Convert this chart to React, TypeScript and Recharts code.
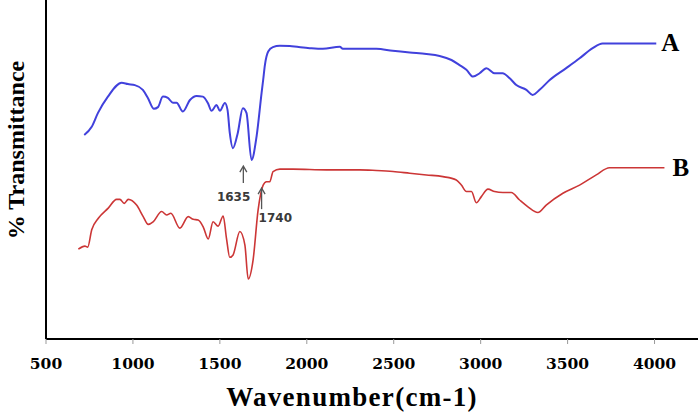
import { LineChart, Line, XAxis, YAxis, ReferenceDot } from 'recharts'

// FTIR spectra, wavenumber (cm-1) vs % transmittance
const waveA = [
  720, 763, 799, 856, 935, 971, 1011, 1057, 1086, 1121, 1144, 1172, 1201, 1230,
  1251, 1287, 1328, 1366, 1402, 1431, 1452, 1481, 1500, 1529, 1544, 1557, 1575,
  1603, 1632, 1653, 1682, 1711, 1740, 1749, 1759, 1778, 1805, 1845, 1902, 2017,
  2092, 2190, 2207, 2305, 2400, 2494, 2592, 2688, 2764, 2832, 2879, 2918, 2956,
  2994, 3033, 3080, 3126, 3167, 3205, 3263, 3299, 3339, 3397, 3492, 3569, 3644,
  3701, 4010,
]
const transA = [
  60.2, 62.6, 66.7, 71.5, 75.6, 75.2, 74.9, 73.5, 71.1, 67.9, 68.4, 71.5, 71.1, 69.7,
  69.7, 67.1, 70.5, 71.7, 71.5, 69.6, 67.3, 69.0, 67.3, 69.6, 67.6, 60.8, 56.3,
  60.8, 68.1, 66.7, 52.8, 59.7, 72.6, 76.4, 80.8, 84.8, 86.1, 86.5, 86.4, 85.8,
  85.6, 86.2, 85.6, 85.6, 85.6, 85.0, 84.5, 84.1, 83.5, 82.3, 80.8, 79.4, 77.4,
  78.4, 79.9, 78.4, 78.4, 76.9, 74.9, 73.5, 72.0, 73.5, 76.4, 79.9, 82.8, 85.8,
  87.2, 87.2,
]

const waveB = [
  686, 724, 740, 763, 801, 858, 906, 925, 950, 973, 1021, 1059, 1088, 1117, 1165,
  1194, 1218, 1270, 1318, 1347, 1375, 1404, 1433, 1461, 1490, 1519, 1538, 1557,
  1576, 1615, 1644, 1663, 1691, 1720, 1749, 1768, 1787, 1806, 1845, 1921, 2113,
  2305, 2400, 2496, 2592, 2688, 2783, 2860, 2889, 2918, 2947, 2975, 3004, 3042,
  3080, 3128, 3176, 3224, 3272, 3329, 3377, 3473, 3569, 3665, 3741, 4057,
]
const transB = [
  26.5, 27.4, 27.1, 32.2, 35.6, 38.6, 41.2, 41.2, 40.0, 41.2, 39.5, 36.1, 33.8, 34.6, 37.6,
  36.6, 37.1, 32.7, 36.1, 35.3, 35.1, 33.1, 29.5, 34.6, 33.3, 36.3, 29.7, 24.1,
  24.8, 31.7, 27.7, 17.7, 23.3, 38.1, 45.4, 46.4, 46.4, 49.4, 50.1, 50.1, 49.9,
  49.9, 49.7, 49.4, 48.9, 48.4, 47.9, 46.9, 45.4, 43.5, 43.5, 40.2, 42.0, 44.2,
  43.5, 43.2, 43.2, 41.0, 39.0, 37.3, 39.5, 43.0, 45.4, 48.4, 50.5, 50.5,
]

const xTicks = [500, 1000, 1500, 2000, 2500, 3000, 3500, 4000]

// marked bands: wavenumber and the transmittance level the arrow tip sits at
const peakWaves = [1635, 1740]
const peakTips = [51.0, 44.5]
const peakNames = ['1635', '1740']

const seriesNames = ['A', 'B']

const seriesA = waveA.map((w, i) => ({ w, t: transA[i] }))
const seriesB = waveB.map((w, i) => ({ w, t: transB[i] }))

const serif = '"Liberation Serif", "Times New Roman", serif'

// arrow + wavenumber text; first label sits left of its arrow, second to the right
function PeakArrow(props: any) {
  const { cx, cy, index } = props
  const len = index === 0 ? 17 : 21
  const left = index === 0
  return (
    <g>
      <line x1={cx} y1={cy + 1} x2={cx} y2={cy + len} stroke="#555" strokeWidth={1.3} />
      <polyline
        points={`${cx - 3.5},${cy + 6} ${cx},${cy} ${cx + 3.5},${cy + 6}`}
        fill="none"
        stroke="#555"
        strokeWidth={1.3}
      />
      <text
        x={left ? cx + 7 : cx - 3}
        y={left ? cy + 35 : cy + 34}
        textAnchor={left ? 'end' : 'start'}
        fontFamily='"DejaVu Sans", Verdana, sans-serif'
        fontWeight="bold"
        fontSize={12}
        fill="#3a3a3a"
      >
        {peakNames[index]}
      </text>
    </g>
  )
}

function SeriesTag(props: any) {
  const { cx, cy, index } = props
  return (
    <text
      x={cx + (index === 0 ? 5 : 8)}
      y={cy + 8}
      fontFamily={serif}
      fontWeight="bold"
      fontSize={25}
      fill="#000"
    >
      {seriesNames[index]}
    </text>
  )
}

export default function App() {
  const ends = [seriesA[seriesA.length - 1], seriesB[seriesB.length - 1]]
  return (
    <div style={{ position: 'absolute', left: 0, top: 0, width: 698, height: 416, background: '#fff' }}>
      <LineChart width={698} height={416} margin={{ top: 0, right: 0, bottom: 0, left: 0 }}>
        <XAxis
          type="number"
          dataKey="w"
          domain={[500, 4250]}
          ticks={xTicks}
          allowDataOverflow
          height={77}
          axisLine={{ stroke: '#000', strokeWidth: 2 }}
          tickLine={{ stroke: '#999' }}
          tickSize={5}
          tickMargin={14}
          tick={{ fill: '#000', fontFamily: '"DejaVu Serif", serif', fontWeight: 'bold', fontSize: 15.5 }}
        />
        <YAxis
          type="number"
          domain={[0, 100]}
          width={46}
          tick={false}
          tickLine={false}
          axisLine={{ stroke: '#000', strokeWidth: 2 }}
        />
        <Line
          data={seriesA}
          dataKey="t"
          type="monotone"
          stroke="#4141dc"
          strokeWidth={2}
          dot={false}
          isAnimationActive={false}
        />
        <Line
          data={seriesB}
          dataKey="t"
          type="monotone"
          stroke="#cc3636"
          strokeWidth={1.6}
          dot={false}
          isAnimationActive={false}
        />
        {peakWaves.map((w, i) => (
          <ReferenceDot
            key={'p' + i}
            x={w}
            y={peakTips[i]}
            r={0}
            shape={(p: any) => <PeakArrow {...p} index={i} />}
          />
        ))}
        {ends.map((d, i) => (
          <ReferenceDot
            key={'s' + i}
            x={d.w}
            y={d.t}
            r={0}
            shape={(p: any) => <SeriesTag {...p} index={i} />}
          />
        ))}
        <text
          x={352}
          y={406}
          textAnchor="middle"
          fontFamily={serif}
          fontWeight="bold"
          fontSize={27}
          letterSpacing={1.3}
          fill="#000"
        >
          Wavenumber(cm-1)
        </text>
        <text
          transform="translate(24, 150) rotate(-90)"
          textAnchor="middle"
          fontFamily={serif}
          fontWeight="bold"
          fontSize={24}
          fill="#000"
        >
          % Transmittance
        </text>
      </LineChart>
    </div>
  )
}
